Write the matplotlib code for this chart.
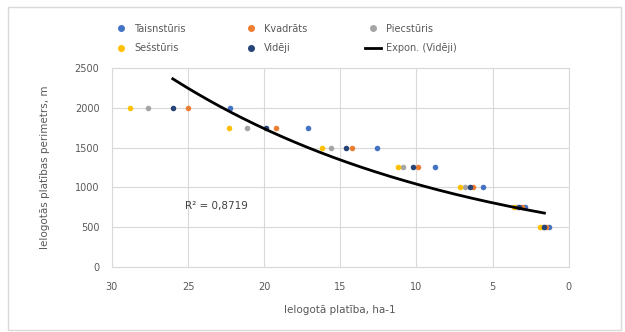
import numpy as np
import matplotlib
matplotlib.use("Agg")
import matplotlib.pyplot as plt
from matplotlib.patches import Rectangle
from matplotlib.lines import Line2D

# Data (x = ielogotā platība, y = perimetrs)
y_levels = [2000, 1750, 1500, 1250, 1000, 750, 500]
taisnsturis = [22.25, 17.1, 12.6, 8.8, 5.6, 2.9, 1.3]
kvadrats = [25.0, 19.2, 14.2, 9.9, 6.3, 3.1, 1.5]
piecsturis = [27.6, 21.1, 15.6, 10.9, 6.8, 3.4, 1.7]
sessturis = [28.8, 22.3, 16.2, 11.2, 7.15, 3.6, 1.9]
videji = [26.0, 19.9, 14.6, 10.2, 6.5, 3.25, 1.6]
r2_text = "R² = 0,8719"

series = [
    ("Taisnstūris", taisnsturis, "#4472C4"),
    ("Kvadrāts", kvadrats, "#ED7D31"),
    ("Piecstūris", piecsturis, "#A5A5A5"),
    ("Sešstūris", sessturis, "#FFC000"),
    ("Vidēji", videji, "#264478"),
]

fig = plt.figure(figsize=(6.25, 3.32), dpi=100)
ax = fig.add_axes([0.179, 0.196, 0.731, 0.599])

tc = "#595959"
handles = []
for name, xs, col in series:
    ax.scatter(xs, y_levels, s=16, color=col, zorder=3, linewidths=0)
    handles.append(Line2D([], [], marker='o', linestyle='none', color=col,
                          markersize=4, label=name))

# exponential trendline on Vidēji
xv = np.array(videji)
yv = np.array(y_levels, dtype=float)
b, lna = np.polyfit(xv, np.log(yv), 1)
xx = np.linspace(xv.min(), xv.max(), 200)
ax.plot(xx, np.exp(lna) * np.exp(b * xx), color="black", lw=2, zorder=4)
handles.append(Line2D([], [], color="black", lw=2, label="Expon. (Vidēji)"))

ax.text(25.2, 760, r2_text, fontsize=7.5, color="#404040", va="center")

ax.set_xlim(30, 0)
ax.set_ylim(0, 2500)
ax.set_xticks([30, 25, 20, 15, 10, 5, 0])
ax.set_yticks([0, 500, 1000, 1500, 2000, 2500])
ax.grid(True, color="#D9D9D9", lw=0.8)
ax.set_axisbelow(True)
for s in ax.spines.values():
    s.set_color("#D9D9D9")
    s.set_linewidth(0.8)
ax.tick_params(axis="x", length=0, labelsize=7, colors=tc, pad=11)
ax.tick_params(axis="y", length=0, labelsize=7, colors=tc, pad=9)
ax.set_xlabel("Ielogotā platība, ha-1", fontsize=7.5, color=tc, labelpad=9)
ax.set_ylabel("Ielogotās platības perimetrs, m", fontsize=7.5, color=tc, labelpad=18)

# reorder for row-wise filling with 3 columns
order = [0, 3, 1, 4, 2, 5]
leg_handles = [handles[i] for i in order]
fig.legend(handles=leg_handles, ncol=3, loc="upper left", bbox_to_anchor=(0.166, 0.955),
           frameon=False, fontsize=7, labelcolor=tc, columnspacing=5.9,
           handlelength=1.7, handletextpad=0.5, labelspacing=1.0)

fig.patches.append(Rectangle((0.013, 0.006), 0.98, 0.972, transform=fig.transFigure,
                             fill=False, edgecolor="#D9D9D9", lw=1))

fig.savefig("out.png", dpi=100)
